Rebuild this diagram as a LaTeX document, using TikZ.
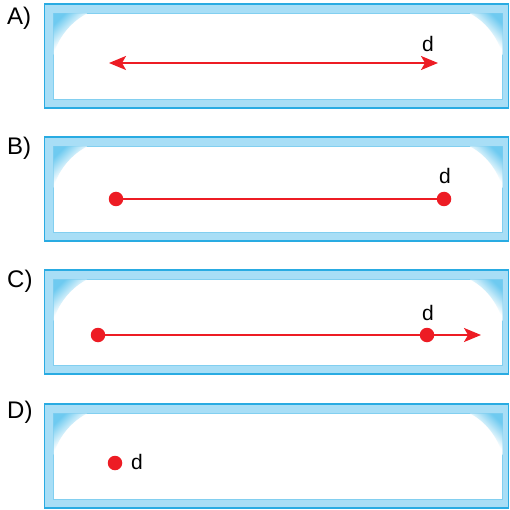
\documentclass[tikz,border=0pt]{standalone}
\usepackage{fontspec}
\setmainfont{Liberation Sans}
\usetikzlibrary{arrows.meta}

\definecolor{framecyan}{RGB}{41,171,226}
\definecolor{bandblue}{RGB}{168,222,246}
\definecolor{cornerblue}{RGB}{110,202,240}
\definecolor{linered}{RGB}{237,28,36}

\tikzset{
  opt/.style={anchor=base west, inner sep=0pt, font=\fontsize{24}{24}\selectfont},
  dname/.style={anchor=base, inner sep=0pt, font=\fontsize{21}{21}\selectfont},
  dot/.style={circle, fill=linered, minimum size=14.5pt, inner sep=0pt},
  seg/.style={draw=linered, line width=1.8pt},
  oneway/.style={-{Stealth[length=17pt, width=14pt, inset=4pt]}},
  twoway/.style={{Stealth[length=17pt, width=14pt, inset=4pt]}-{Stealth[length=17pt, width=14pt, inset=4pt]}},
}

\begin{document}
\begin{tikzpicture}[x=1pt, y=-1pt]
  \useasboundingbox (0,0) rectangle (510,510);

  % the four frames
  \foreach \t in {4,137,270,404} {
    \draw[framecyan, fill=bandblue, line width=1.3pt] (44.5,\t) rectangle (508.5,\t+104);
    \draw[bandblue!70!framecyan, fill=white, line width=0.6pt] (53.5,\t+9.5) rectangle (502.5,\t+95);
    \shade[top color=cornerblue, bottom color=white, middle color=white, shading angle=45]
      (53.5,\t+9.5) -- (87,\t+9.5) .. controls (72,\t+17) and (58,\t+33) .. (53.5,\t+51) -- cycle;
    \shade[top color=cornerblue, bottom color=white, middle color=white, shading angle=-45]
      (502.5,\t+9.5) -- (470,\t+9.5) .. controls (485,\t+17) and (498,\t+33) .. (502.5,\t+51) -- cycle;
  }

  \node[opt] (lA) at (7,25) {A)};
  \node[opt] (lB) at (7,155) {B)};
  \node[opt] (lC) at (7,287) {C)};
  \node[opt] (lD) at (7,418) {D)};

  % A
  \coordinate (a1) at (109,63);
  \coordinate (a2) at (438,63);
  \draw[seg, twoway] (a1) -- (a2);
  \node[dname] (dA) at (428,52) {d};

  % B
  \node[dot] (b1) at (116,199) {};
  \node[dot] (b2) at (444,199) {};
  \draw[seg] (b1) -- (b2);
  \node[dname] (dB) at (445,184) {d};

  % C
  \node[dot] (c1) at (98,335) {};
  \node[dot] (c2) at (427,335) {};
  \coordinate (c3) at (481,335);
  \draw[seg] (c1) -- (c2);
  \draw[seg, oneway] (c2) -- (c3);
  \node[dname] (dC) at (428,320) {d};

  % D
  \node[dot] (d1) at (115,463) {};
  \node[dname, anchor=base west] (dD) at (131,469) {d};
\end{tikzpicture}
\end{document}
